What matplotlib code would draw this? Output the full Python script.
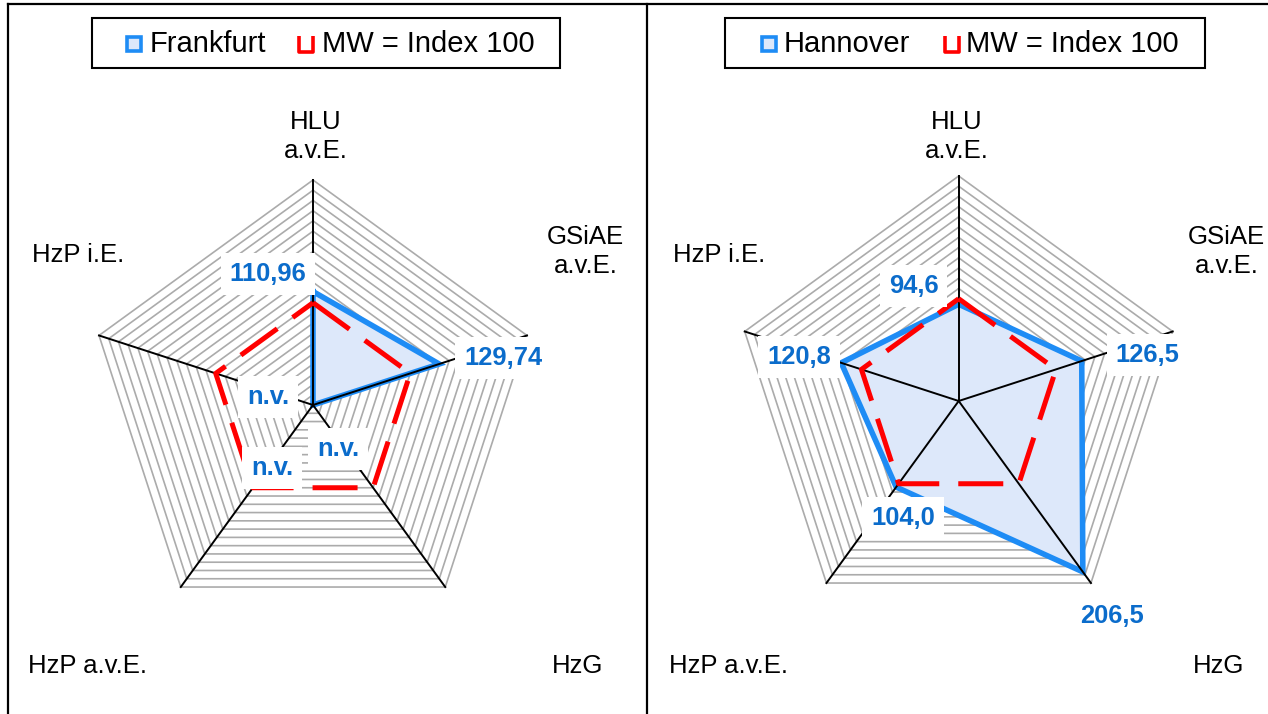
import numpy as np
import matplotlib
matplotlib.use("Agg")
import matplotlib.pyplot as plt
from matplotlib.lines import Line2D
from matplotlib.patches import Rectangle
from matplotlib.path import Path

plt.rcParams['font.family'] = ['Liberation Sans', 'DejaVu Sans']

# ---- data -------------------------------------------------------------
categories = ["HLU\na.v.E.", "GSiAE\na.v.E.", "HzG", "HzP a.v.E.", "HzP i.E."]
frankfurt = [110.96, 129.74, None, None, None]   # None = n.v. (nicht vorhanden)
hannover = [94.6, 126.5, 206.5, 104.0, 120.8]
mean_index = [100, 100, 100, 100, 100]
city_names = ["Frankfurt", "Hannover"]
mean_label = "MW = Index 100"
decimals = [2, 1]
r_max = 220
r_step = 10

# ---- styling ----------------------------------------------------------
W, H = 1268, 714
BLUE = "#1e8cf5"
BLUE_FILL = "#dde8fa"
LABEL_BLUE = "#0b6ccb"
RED = "#ff0000"
GRID = "#ababab"

fig = plt.figure(figsize=(W / 100, H / 100), dpi=100)


def fx(x):
    return x / W


def fy(y):
    return 1 - y / H


def fmt(v, nd):
    if v is None:
        return "n.v."
    return f"{v:.{nd}f}".replace(".", ",")


n = len(categories)
theta = np.linspace(0, 2 * np.pi, n, endpoint=False)
theta_c = np.append(theta, theta[0])

# panel geometry: centre of the radar in pixels, radius in pixels
centres = [(313, 405), (958.7, 401)]
radius_px = 225
# label offsets (pixels) from each data point, baseline anchored
label_offsets = [
    [(-45, 10.5), (64, -1), (25, -51), (-41, -70), (-45, 1)],
    [(-45, 11), (66, -1), (29, -51), (7, -38), (-42, -1)],
]
# category label anchors (x, baseline y) in pixels, per panel shift
cat_pos = {
    0: [(316, 129, "center"), (316, 158, "center")],
    1: [(585, 244, "center"), (586, 273, "center")],
    2: [(578, 673, "center")],
    3: [(28, 673, "left")],
    4: [(32, 262, "left")],
}
panel_shift = [0, 641]
legend_boxes = [(92, 560), (725, 1205)]
legend_items = [
    [(133.5, 150), (306, 322)],
    [(769, 784), (952, 966)],
]

u_marker = Path([(-0.8, 1), (-0.8, -1), (0.8, -1), (0.8, 1)],
                [Path.MOVETO, Path.LINETO, Path.LINETO, Path.LINETO])

series_all = [frankfurt, hannover]

for p in range(2):
    cx, cy = centres[p]
    rect = [fx(cx - radius_px), fy(cy + radius_px),
            2 * radius_px / W, 2 * radius_px / H]
    ax = fig.add_axes(rect, projection="polar")
    ax.set_theta_zero_location("N")
    ax.set_theta_direction(-1)
    ax.set_ylim(0, r_max)
    ax.axis("off")

    # pentagon grid rings
    for r in np.arange(r_step, r_max + 0.1, r_step):
        ax.plot(theta_c, [r] * (n + 1), color=GRID, lw=1.2, zorder=1,
                clip_on=False)

    vals = series_all[p]
    plot_vals = [0 if v is None else v for v in vals]
    pv_c = plot_vals + [plot_vals[0]]
    ax.fill(theta_c, pv_c, color=BLUE_FILL, zorder=2, lw=0)
    ax.plot(theta_c, pv_c, color=BLUE, lw=4.0, zorder=3,
            solid_joinstyle="miter", clip_on=False)

    # spokes
    for t in theta:
        ax.plot([t, t], [0, r_max], color="black", lw=1.4, zorder=4,
                clip_on=False)

    mi_c = mean_index + [mean_index[0]]
    ax.plot(theta_c, mi_c, color=RED, lw=3.6, zorder=5,
            dashes=(9, 3.8), dash_capstyle="butt", clip_on=False)

    # data labels
    for i, v in enumerate(vals):
        dx, dy = label_offsets[p][i]
        ax.annotate(fmt(v, decimals[p]), xy=(theta[i], plot_vals[i]),
                    xytext=(dx, dy), textcoords="offset pixels",
                    ha="center", va="baseline", fontsize=18.4,
                    fontweight="bold", color=LABEL_BLUE, zorder=10,
                    annotation_clip=False,
                    bbox=dict(boxstyle="square,pad=0.35", fc="white",
                              ec="none"))

    # category labels
    shift = panel_shift[p]
    for i, cat in enumerate(categories):
        lines = cat.split("\n")
        for line, (x, y, ha) in zip(lines, cat_pos[i]):
            fig.text(fx(x + shift), fy(y), line, ha=ha, va="baseline",
                     fontsize=18.5, color="black")

    # legend
    x0, x1 = legend_boxes[p]
    fig.add_artist(Rectangle((fx(x0), fy(68)), (x1 - x0) / W, 50 / H,
                             transform=fig.transFigure, fill=False,
                             ec="black", lw=1.5))
    (m1, t1), (m2, t2) = legend_items[p]
    ly = 43.5
    fig.add_artist(Line2D([fx(m1)], [fy(ly)], marker="s", ms=10,
                          mfc=BLUE_FILL, mec=BLUE, mew=2.6, ls="none",
                          transform=fig.transFigure))
    fig.text(fx(t1), fy(ly), city_names[p], ha="left", va="center",
             fontsize=21)
    fig.add_artist(Line2D([fx(m2)], [fy(ly)], marker=u_marker, ms=12,
                          mfc="none", mec=RED, mew=2.6, ls="none",
                          transform=fig.transFigure))
    fig.text(fx(t2), fy(ly), mean_label, ha="left", va="center",
             fontsize=21)

# panel frame lines
for xs, ys in [((8, 8), (4, 714)), ((647, 647), (4, 714)),
               ((8, 1268), (4, 4))]:
    fig.add_artist(Line2D([fx(xs[0]), fx(xs[1])], [fy(ys[0]), fy(ys[1])],
                          color="black", lw=1.6, transform=fig.transFigure))

fig.savefig("out.png", dpi=100)
